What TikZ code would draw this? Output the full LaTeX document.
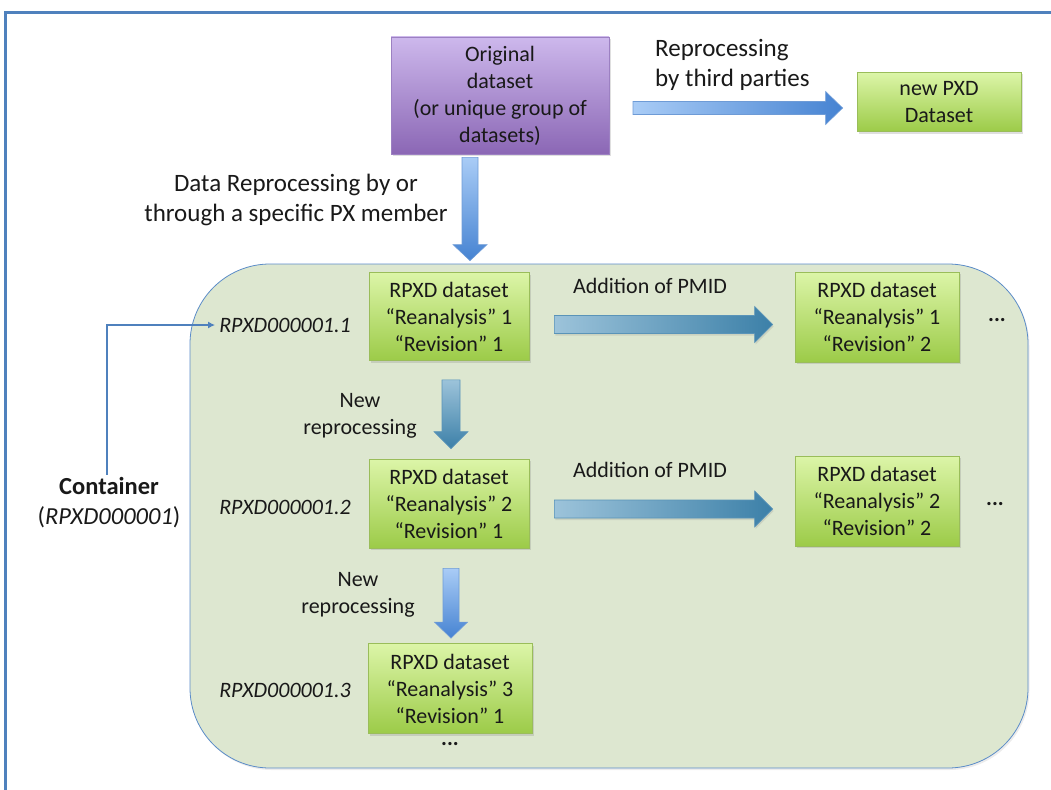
\documentclass[tikz,border=0pt]{standalone}
\usepackage{fontspec}
\setmainfont{Carlito}
\usetikzlibrary{calc,shadows,arrows.meta}
\definecolor{framecol}{HTML}{4F81BD}
\definecolor{contfill}{HTML}{DDE7D0}
\definecolor{contline}{HTML}{5B8CC8}
\definecolor{gtop}{HTML}{DCF5A8}
\definecolor{gbot}{HTML}{9CCB48}
\definecolor{gline}{HTML}{9ABD5A}
\definecolor{ptop}{HTML}{CDB8EC}
\definecolor{pbot}{HTML}{8B67B5}
\definecolor{pline}{HTML}{9C80C2}
\definecolor{blight}{HTML}{A9CCF6}
\definecolor{bdark}{HTML}{4683D2}
\definecolor{bline}{HTML}{6E9BD6}
\definecolor{slight}{HTML}{9CC3DA}
\definecolor{sdark}{HTML}{3C80A8}
\definecolor{sline}{HTML}{5A94B8}
\newcommand{\HArrow}[6]{%
 \path[#1] let \p1=(#2), \p2=(#3) in
  (\x1,\y1+#4pt) -- (\x2-#6pt,\y1+#4pt) -- (\x2-#6pt,\y1+#5pt) -- (\x2,\y1)
  -- (\x2-#6pt,\y1-#5pt) -- (\x2-#6pt,\y1-#4pt) -- (\x1,\y1-#4pt) -- cycle;}
\newcommand{\VArrow}[6]{%
 \path[#1] let \p1=(#2), \p2=(#3) in
  (\x1-#4pt,\y1) -- (\x1-#4pt,\y2+#6pt) -- (\x1-#5pt,\y2+#6pt) -- (\x1,\y2)
  -- (\x1+#5pt,\y2+#6pt) -- (\x1+#4pt,\y2+#6pt) -- (\x1+#4pt,\y1) -- cycle;}
\tikzset{
  base/.style={font=\fontsize{22}{27}\selectfont, align=center, text=black!90},
  greenbox/.style={base, draw=gline, line width=0.8pt, top color=gtop, bottom color=gbot,
    minimum width=164pt, minimum height=89pt, inner sep=0pt,
    drop shadow={shadow xshift=1.5pt, shadow yshift=-2pt, opacity=0.25}},
  lbl/.style={base, inner sep=0pt},
  biglbl/.style={base, inner sep=0pt, font=\fontsize{25}{29.5}\selectfont},
  idlbl/.style={base, font=\fontsize{22}{27}\selectfont\itshape, inner sep=0pt},
  blueV/.style={draw=bline, line width=0.6pt, top color=blight, bottom color=bdark},
  blueH/.style={draw=bline, line width=0.6pt, left color=blight, right color=bdark},
  steelH/.style={draw=sline, line width=0.6pt, left color=slight, right color=sdark,
    drop shadow={shadow xshift=1pt, shadow yshift=-2pt, opacity=0.2}},
  steelV/.style={draw=sline, line width=0.6pt, top color=slight, bottom color=sdark},
  blueVs/.style={draw=bline, line width=0.6pt, top color=blight, bottom color=bdark},
}
\begin{document}
\begin{tikzpicture}[x=1pt,y=-1pt]
\useasboundingbox (0,0) rectangle (1051,789);
% outer frame
\draw[framecol, line width=3pt] (5,795) -- (5,13) -- (1060,13);
% container
\node[draw=contline, line width=0.8pt, fill=contfill, rounded corners=80pt,
  minimum width=838pt, minimum height=504pt, inner sep=0pt,
  drop shadow={shadow xshift=1.5pt, shadow yshift=-2pt, opacity=0.15}] (cont) at (609,516) {};
% original dataset
\node[base, draw=pline, line width=0.8pt, top color=ptop, bottom color=pbot,
  minimum width=218pt, minimum height=117pt, inner sep=0pt,
  drop shadow={shadow xshift=1.5pt, shadow yshift=-2pt, opacity=0.25}] (orig) at (500,95.5)
  {Original\\dataset\\(or unique group of\\datasets)};
\node[greenbox, minimum height=59pt] (newpxd) at (939,102) {new PXD\\Dataset};
% green boxes
\node[greenbox, minimum width=160pt, minimum height=88pt] (b1) at (449,316.5)
  {RPXD dataset\\“Reanalysis” 1\\“Revision” 1};
\node[greenbox, minimum height=90pt] (b1r) at (877,317)
  {RPXD dataset\\“Reanalysis” 1\\“Revision” 2};
\node[greenbox, minimum width=160pt] (b2) at (449,503.5)
  {RPXD dataset\\“Reanalysis” 2\\“Revision” 1};
\node[greenbox, minimum height=90pt] (b2r) at (877,501)
  {RPXD dataset\\“Reanalysis” 2\\“Revision” 2};
\node[greenbox, minimum height=90pt] (b3) at (450,688.5)
  {RPXD dataset\\“Reanalysis” 3\\“Revision” 1};
% labels
\node[biglbl] (ldata) at (296,200) {Data Reprocessing by or\\through a specific PX member};
\node[biglbl, align=left, anchor=west] (lthird) at (655,65) {Reprocessing\\by third parties};
\node[lbl] (lpm1) at (650,286) {Addition of PMID};
\node[lbl] (lpm2) at (650,470) {Addition of PMID};
\node[lbl] (lnew1) at (360,416) {New\\reprocessing};
\node[lbl] (lnew2) at (358,595) {New\\reprocessing};
\node[idlbl, anchor=east] (id1) at (351,325) {RPXD000001.1};
\node[idlbl, anchor=east] (id2) at (351,507) {RPXD000001.2};
\node[idlbl, anchor=east] (id3) at (351,690) {RPXD000001.3};
\node[lbl] (d1) at (997,320) {\textbf{...}};
\node[lbl] (d2) at (995,504) {\textbf{...}};
\node[lbl] (d3) at (450,744) {\textbf{...}};
\node[biglbl, font=\fontsize{24.5}{30}\selectfont] (contlbl) at (109,503)
  {\textbf{Container}\\(\textit{RPXD000001})};
% connector
\draw[framecol, line width=1.6pt, -{Latex[length=7pt,width=7pt]}]
  (contlbl.north -| 107,0) ++(0,-3) |- ($(id1.west)+(-4,0)$);
% block arrows
\coordinate (oa) at ($(orig.south)+(-30,3)$);
\coordinate (ob) at ($(cont.north)+(-139,-3)$);
\VArrow{blueV}{oa}{ob}{8}{17}{16}
\coordinate (ta) at (633,108);
\coordinate (tb) at ($(newpxd.west)+(-14,6)$);
\HArrow{blueH}{ta}{tb}{6.5}{16.5}{17}
\coordinate (pa1) at ($(b1.east)+(25,8)$);
\coordinate (pb1) at ($(b1r.west)+(-22,8)$);
\HArrow{steelH}{pa1}{pb1}{9}{18}{18}
\coordinate (pa2) at ($(b2.east)+(25,5.5)$);
\coordinate (pb2) at ($(b2r.west)+(-22,8)$);
\HArrow{steelH}{pa2}{pb2}{9}{18}{18}
\coordinate (na1) at ($(b1.south)+(2,19)$);
\coordinate (nb1) at ($(b2.north)+(2,-10)$);
\VArrow{steelV}{na1}{nb1}{9}{17}{17}
\coordinate (na2) at ($(b2.south)+(2,20)$);
\coordinate (nb2) at ($(b3.north)+(1,-5)$);
\VArrow{blueVs}{na2}{nb2}{8}{16.5}{16}
\end{tikzpicture}
\end{document}
